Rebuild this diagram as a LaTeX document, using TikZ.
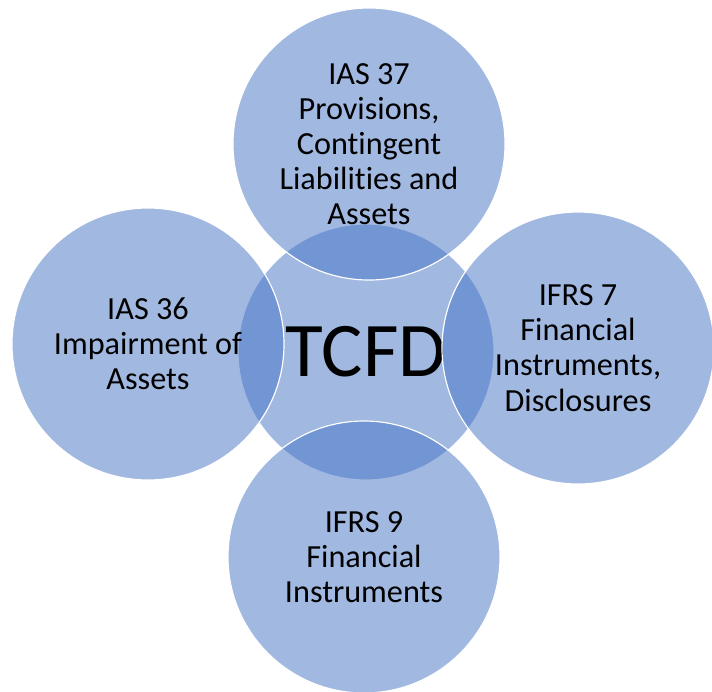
\documentclass[tikz,border=0pt]{standalone}
\usepackage{fontspec}
\setmainfont{Carlito}[RawFeature=-liga]
\definecolor{xanh}{RGB}{68,114,196}

\begin{document}
\begin{tikzpicture}[x=0.03cm, y=-0.03cm,
    vong/.style={circle, draw=white, line width=1pt, fill=xanh, fill opacity=0.5,
        text opacity=1, align=center, inner sep=0pt,
        font=\fontsize{27.5}{30}\selectfont},
    vongphu/.style={vong, minimum size=8.16cm}]
        \useasboundingbox (0,0) rectangle (712,691);

        % Vòng tròn ở giữa
        \node[vong, minimum size=7.68cm, font=\fontsize{66}{70}\selectfont] (tcfd) at (366,352) {TCFD};

        % Các vòng xung quanh
        \node[vongphu] (ias37) at (369,144) {IAS 37\\Provisions,\\Contingent\\Liabilities and\\Assets};
        \node[vongphu] (ias36) at (148,344) {IAS 36\\Impairment of\\Assets};
        \node[vongphu] (ifrs7) at (578,348) {IFRS 7\\Financial\\Instruments,\\Disclosures};
        \node[vongphu] (ifrs9) at (364,557) {IFRS 9\\Financial\\Instruments};
    \end{tikzpicture}
\end{document}
